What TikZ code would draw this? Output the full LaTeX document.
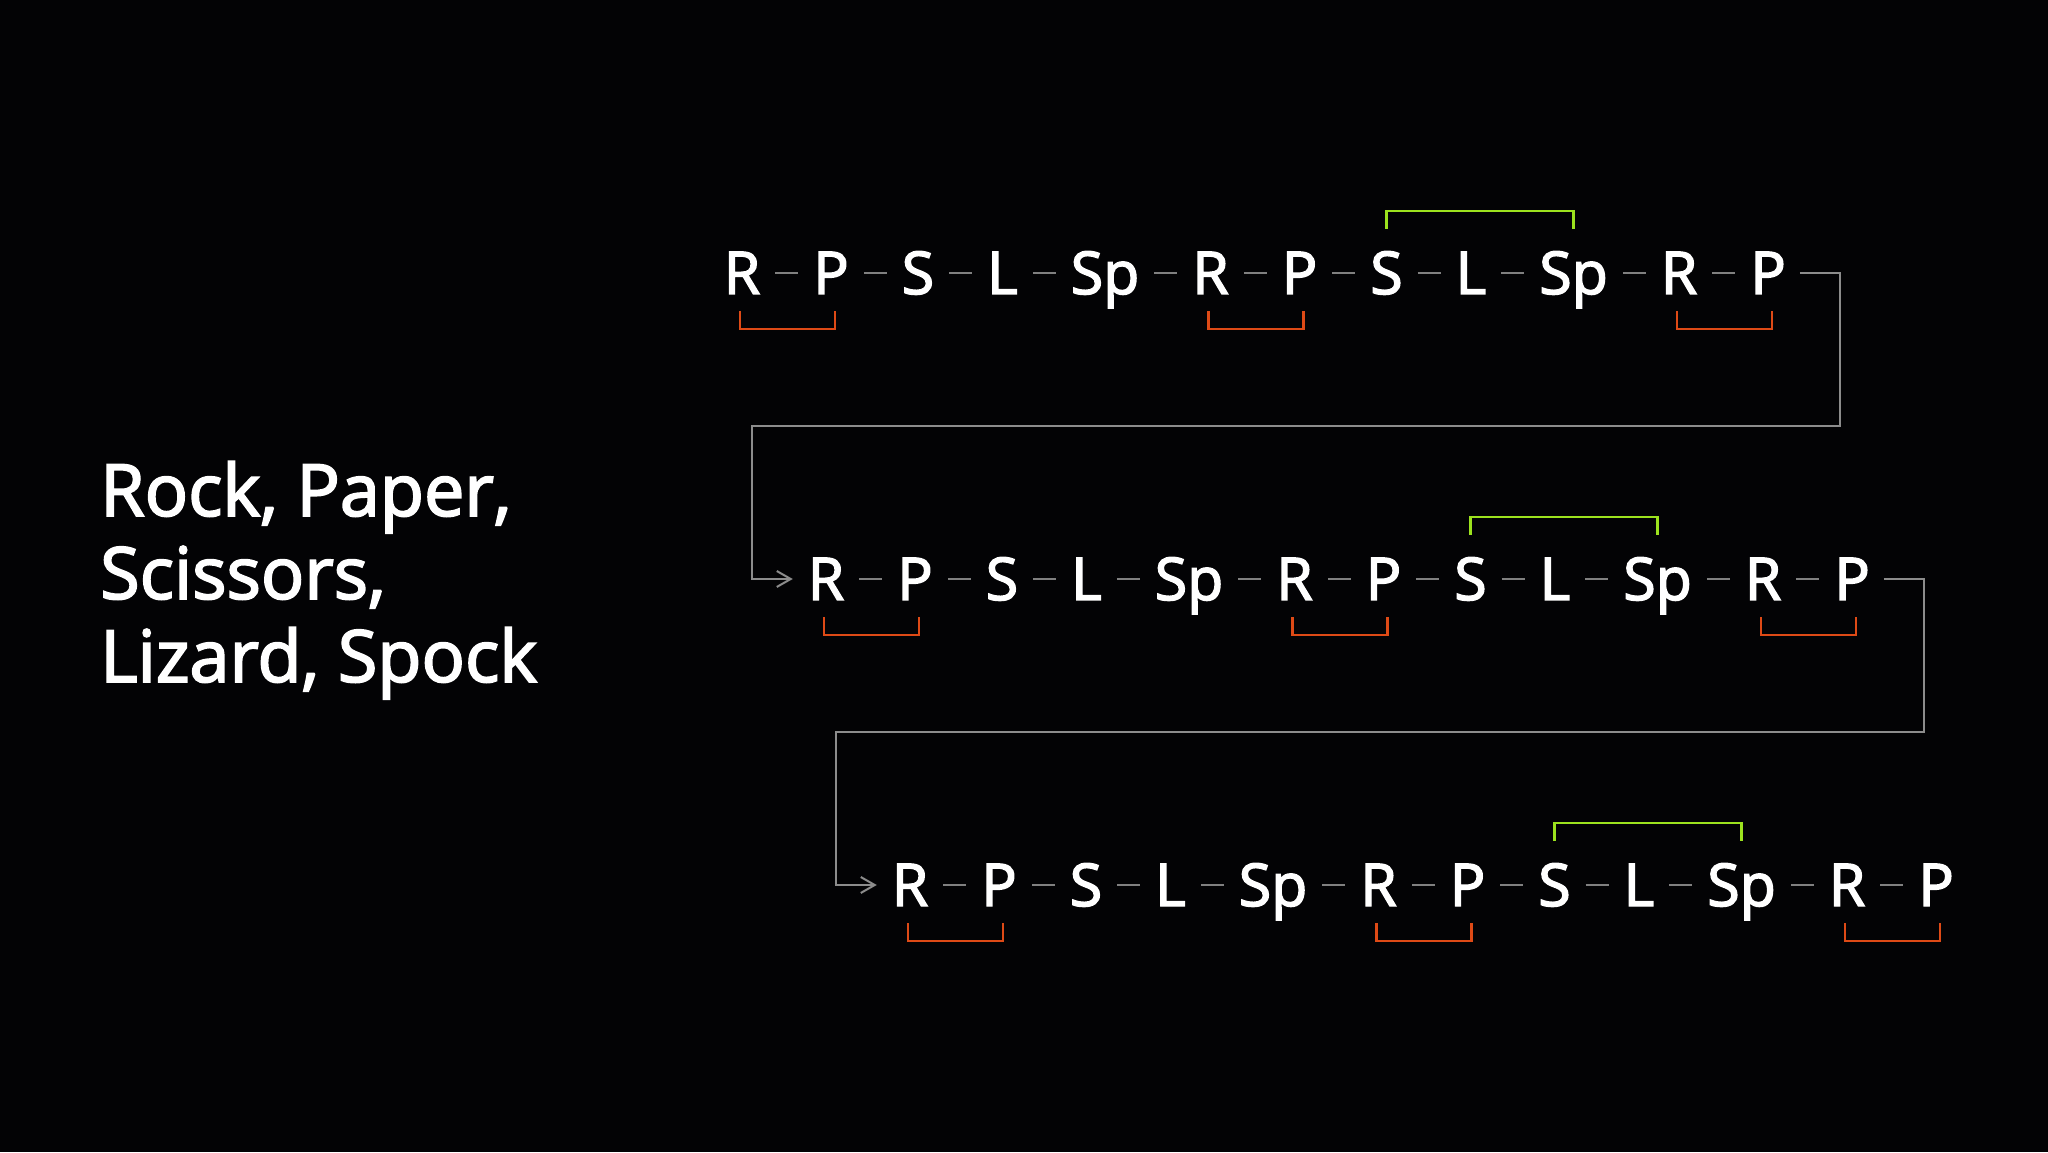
\documentclass[tikz,border=0pt]{standalone}
\usepackage{fontspec}
\setmainfont{Open Sans}[FakeBold=2.5]
\usetikzlibrary{positioning,arrows.meta}

\definecolor{bg}{RGB}{3,3,5}
\definecolor{losered}{RGB}{222,74,22}
\definecolor{wingreen}{RGB}{156,226,30}
\definecolor{linkgray}{RGB}{128,128,128}
\definecolor{flowgray}{RGB}{140,140,140}

\begin{document}
\begin{tikzpicture}[x=1pt,y=1pt,>={Straight Barb[length=14pt,width=16pt]},node distance=53pt,
    hand node/.style={text=white,inner sep=0pt,outer sep=0pt,text height=42pt,text depth=0pt,
                      font=\fontsize{59}{70}\selectfont},
    title/.style={text=white,align=left,inner sep=0pt,font=\fontsize{72}{83}\selectfont},
    link/.style={draw=linkgray,line width=2pt,shorten <=15pt,shorten >=15pt},
    lose/.style={draw=losered,line width=2.5pt},
    win/.style={draw=wingreen,line width=2.5pt},
    flow/.style={draw=flowgray,line width=2pt}]

  \fill[bg] (0,0) rectangle (2048,1152);

  \node[title,anchor=north west] (title) at (100,691) {Rock, Paper,\\Scissors,\\Lizard, Spock};

  % first row
  \node[hand node] (a1) at (742,879) {R};
  \node[hand node,right=of a1] (a2) {P};
  \node[hand node,right=of a2] (a3) {S};
  \node[hand node,right=of a3] (a4) {L};
  \node[hand node,right=of a4] (a5) {Sp};
  \node[hand node,right=of a5] (a6) {R};
  \node[hand node,right=of a6] (a7) {P};
  \node[hand node,right=of a7] (a8) {S};
  \node[hand node,right=of a8] (a9) {L};
  \node[hand node,right=of a9] (a10) {Sp};
  \node[hand node,right=of a10] (a11) {R};
  \node[hand node,right=of a11] (a12) {P};

  % second row
  \node[hand node] (b1) at (826,573) {R};
  \node[hand node,right=of b1] (b2) {P};
  \node[hand node,right=of b2] (b3) {S};
  \node[hand node,right=of b3] (b4) {L};
  \node[hand node,right=of b4] (b5) {Sp};
  \node[hand node,right=of b5] (b6) {R};
  \node[hand node,right=of b6] (b7) {P};
  \node[hand node,right=of b7] (b8) {S};
  \node[hand node,right=of b8] (b9) {L};
  \node[hand node,right=of b9] (b10) {Sp};
  \node[hand node,right=of b10] (b11) {R};
  \node[hand node,right=of b11] (b12) {P};

  % third row
  \node[hand node] (c1) at (910,267) {R};
  \node[hand node,right=of c1] (c2) {P};
  \node[hand node,right=of c2] (c3) {S};
  \node[hand node,right=of c3] (c4) {L};
  \node[hand node,right=of c4] (c5) {Sp};
  \node[hand node,right=of c5] (c6) {R};
  \node[hand node,right=of c6] (c7) {P};
  \node[hand node,right=of c7] (c8) {S};
  \node[hand node,right=of c8] (c9) {L};
  \node[hand node,right=of c9] (c10) {Sp};
  \node[hand node,right=of c10] (c11) {R};
  \node[hand node,right=of c11] (c12) {P};

  \path[link]
    (a1) edge (a2) (a2) edge (a3) (a3) edge (a4) (a4) edge (a5) (a5) edge (a6) (a6) edge (a7)
    (a7) edge (a8) (a8) edge (a9) (a9) edge (a10) (a10) edge (a11) (a11) edge (a12)
    (b1) edge (b2) (b2) edge (b3) (b3) edge (b4) (b4) edge (b5) (b5) edge (b6) (b6) edge (b7)
    (b7) edge (b8) (b8) edge (b9) (b9) edge (b10) (b10) edge (b11) (b11) edge (b12)
    (c1) edge (c2) (c2) edge (c3) (c3) edge (c4) (c4) edge (c5) (c5) edge (c6) (c6) edge (c7)
    (c7) edge (c8) (c8) edge (c9) (c9) edge (c10) (c10) edge (c11) (c11) edge (c12);

  % wrap from one row to the next
  \coordinate (t1) at (1840,726);
  \coordinate (t2) at (752,726);
  \coordinate (t3) at (1924,420);
  \coordinate (t4) at (836,420);
  \draw[flow,->] ([xshift=14pt]a12.east) -| (t1) -- (t2) |- ([xshift=-15pt]b1.west);
  \draw[flow,->] ([xshift=14pt]b12.east) -| (t3) -- (t4) |- ([xshift=-15pt]c1.west);

  % brackets
  \draw[lose] ([xshift=-2pt,yshift=-17pt]a1.south) -- ++(0,-18) -| ([xshift=4pt,yshift=-17pt]a2.south);
  \draw[lose] ([xshift=-2pt,yshift=-17pt]a6.south) -- ++(0,-18) -| ([xshift=4pt,yshift=-17pt]a7.south);
  \draw[lose] ([xshift=-2pt,yshift=-17pt]a11.south) -- ++(0,-18) -| ([xshift=4pt,yshift=-17pt]a12.south);
  \draw[lose] ([xshift=-2pt,yshift=-17pt]b1.south) -- ++(0,-18) -| ([xshift=4pt,yshift=-17pt]b2.south);
  \draw[lose] ([xshift=-2pt,yshift=-17pt]b6.south) -- ++(0,-18) -| ([xshift=4pt,yshift=-17pt]b7.south);
  \draw[lose] ([xshift=-2pt,yshift=-17pt]b11.south) -- ++(0,-18) -| ([xshift=4pt,yshift=-17pt]b12.south);
  \draw[lose] ([xshift=-2pt,yshift=-17pt]c1.south) -- ++(0,-18) -| ([xshift=4pt,yshift=-17pt]c2.south);
  \draw[lose] ([xshift=-2pt,yshift=-17pt]c6.south) -- ++(0,-18) -| ([xshift=4pt,yshift=-17pt]c7.south);
  \draw[lose] ([xshift=-2pt,yshift=-17pt]c11.south) -- ++(0,-18) -| ([xshift=4pt,yshift=-17pt]c12.south);
  \draw[win] ([yshift=23pt]a8.north) -- ++(0,18) -| ([yshift=23pt]a10.north);
  \draw[win] ([yshift=23pt]b8.north) -- ++(0,18) -| ([yshift=23pt]b10.north);
  \draw[win] ([yshift=23pt]c8.north) -- ++(0,18) -| ([yshift=23pt]c10.north);
\end{tikzpicture}
\end{document}
